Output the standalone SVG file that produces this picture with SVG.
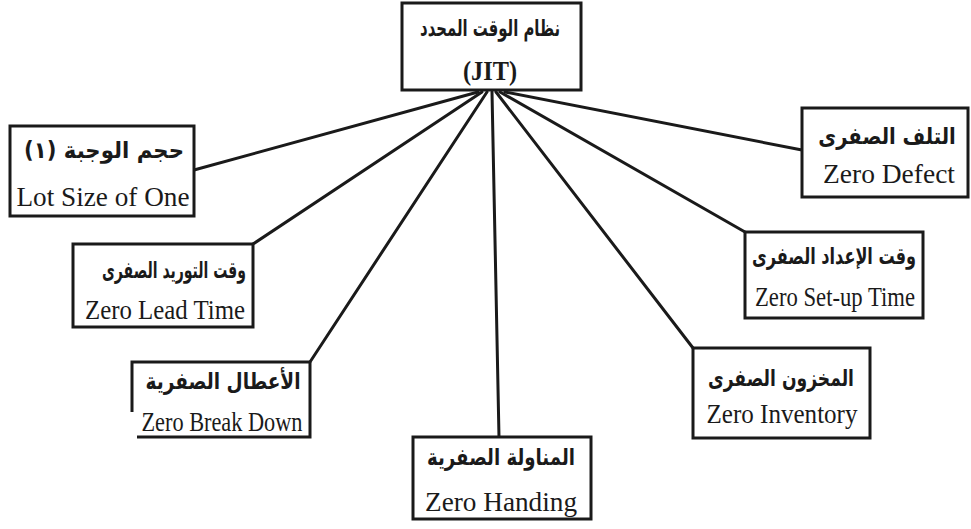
<svg xmlns="http://www.w3.org/2000/svg" width="971" height="529" viewBox="0 0 971 529">
<style>
.box{fill:#fff;stroke:#1a1a1a;stroke-width:3}
.edge{stroke:#1a1a1a;stroke-width:3;fill:none;stroke-linecap:round}
.ar{font-family:"DejaVu Sans",sans-serif;font-size:23px;font-weight:bold;fill:#1a1a1a;text-anchor:middle;direction:rtl}
.en{font-family:"Liberation Serif",serif;font-size:27px;fill:#1a1a1a;text-anchor:middle}
</style>
<rect width="971" height="529" fill="#fff"/>
<g id="connectors">
<line class="edge" x1="194" y1="170" x2="478" y2="92"/>
<line class="edge" x1="253" y1="244" x2="482" y2="92"/>
<line class="edge" x1="310" y1="362" x2="487" y2="92"/>
<line class="edge" x1="499" y1="437" x2="492" y2="92"/>
<line class="edge" x1="693" y1="348" x2="496" y2="92"/>
<line class="edge" x1="745" y1="232" x2="500" y2="92"/>
<line class="edge" x1="802" y1="150" x2="505" y2="92"/>
</g>
<g id="jit">
<rect class="box" x="402" y="3" width="179" height="87"/>
<text class="ar" x="490" y="36" textLength="140" lengthAdjust="spacingAndGlyphs">نظام الوقت المحدد</text>
<text class="en" x="490" y="80" font-weight="bold" textLength="54" lengthAdjust="spacingAndGlyphs">(JIT)</text>
</g>
<g id="lotsize">
<rect class="box" x="10" y="126" width="184" height="90"/>
<text class="ar" x="104" y="158" textLength="160" lengthAdjust="spacingAndGlyphs">حجم الوجبة (١)</text>
<text class="en" x="103" y="206" textLength="173" lengthAdjust="spacingAndGlyphs">Lot Size of One</text>
</g>
<g id="leadtime">
<rect class="box" x="73" y="244" width="180" height="83"/>
<text class="ar" x="174" y="278" textLength="144" lengthAdjust="spacingAndGlyphs">وقت التوريد الصفرى</text>
<text class="en" x="165" y="319" textLength="160" lengthAdjust="spacingAndGlyphs">Zero Lead Time</text>
</g>
<g id="breakdown">
<path class="box" d="M310,362 H132 V412 M137,437 H310 V362" fill="none"/>
<text class="ar" x="223" y="389" textLength="155" lengthAdjust="spacingAndGlyphs">الأعطال الصفرية</text>
<text class="en" x="222" y="431" textLength="161" lengthAdjust="spacingAndGlyphs">Zero Break Down</text>
</g>
<g id="handing">
<rect class="box" x="413" y="437" width="178" height="82"/>
<text class="ar" x="501" y="465" textLength="148" lengthAdjust="spacingAndGlyphs">المناولة الصفرية</text>
<text class="en" x="501" y="511" textLength="152" lengthAdjust="spacingAndGlyphs">Zero Handing</text>
</g>
<g id="inventory">
<rect class="box" x="693" y="348" width="177" height="90"/>
<text class="ar" x="781" y="386" textLength="146" lengthAdjust="spacingAndGlyphs">المخزون الصفرى</text>
<text class="en" x="782" y="423" textLength="151" lengthAdjust="spacingAndGlyphs">Zero Inventory</text>
</g>
<g id="setup">
<rect class="box" x="745" y="232" width="178" height="86"/>
<text class="ar" transform="translate(834,264) scale(0.7,1)" x="0" y="0">وقت الإعداد الصفرى</text>
<text class="en" x="835" y="306" textLength="160" lengthAdjust="spacingAndGlyphs">Zero Set-up Time</text>
</g>
<g id="defect">
<rect class="box" x="802" y="108" width="166" height="89"/>
<text class="ar" transform="translate(887,144) scale(0.85,1)" x="0" y="0">التلف الصفرى</text>
<text class="en" x="889" y="183" textLength="132" lengthAdjust="spacingAndGlyphs">Zero Defect</text>
</g>
</svg>
